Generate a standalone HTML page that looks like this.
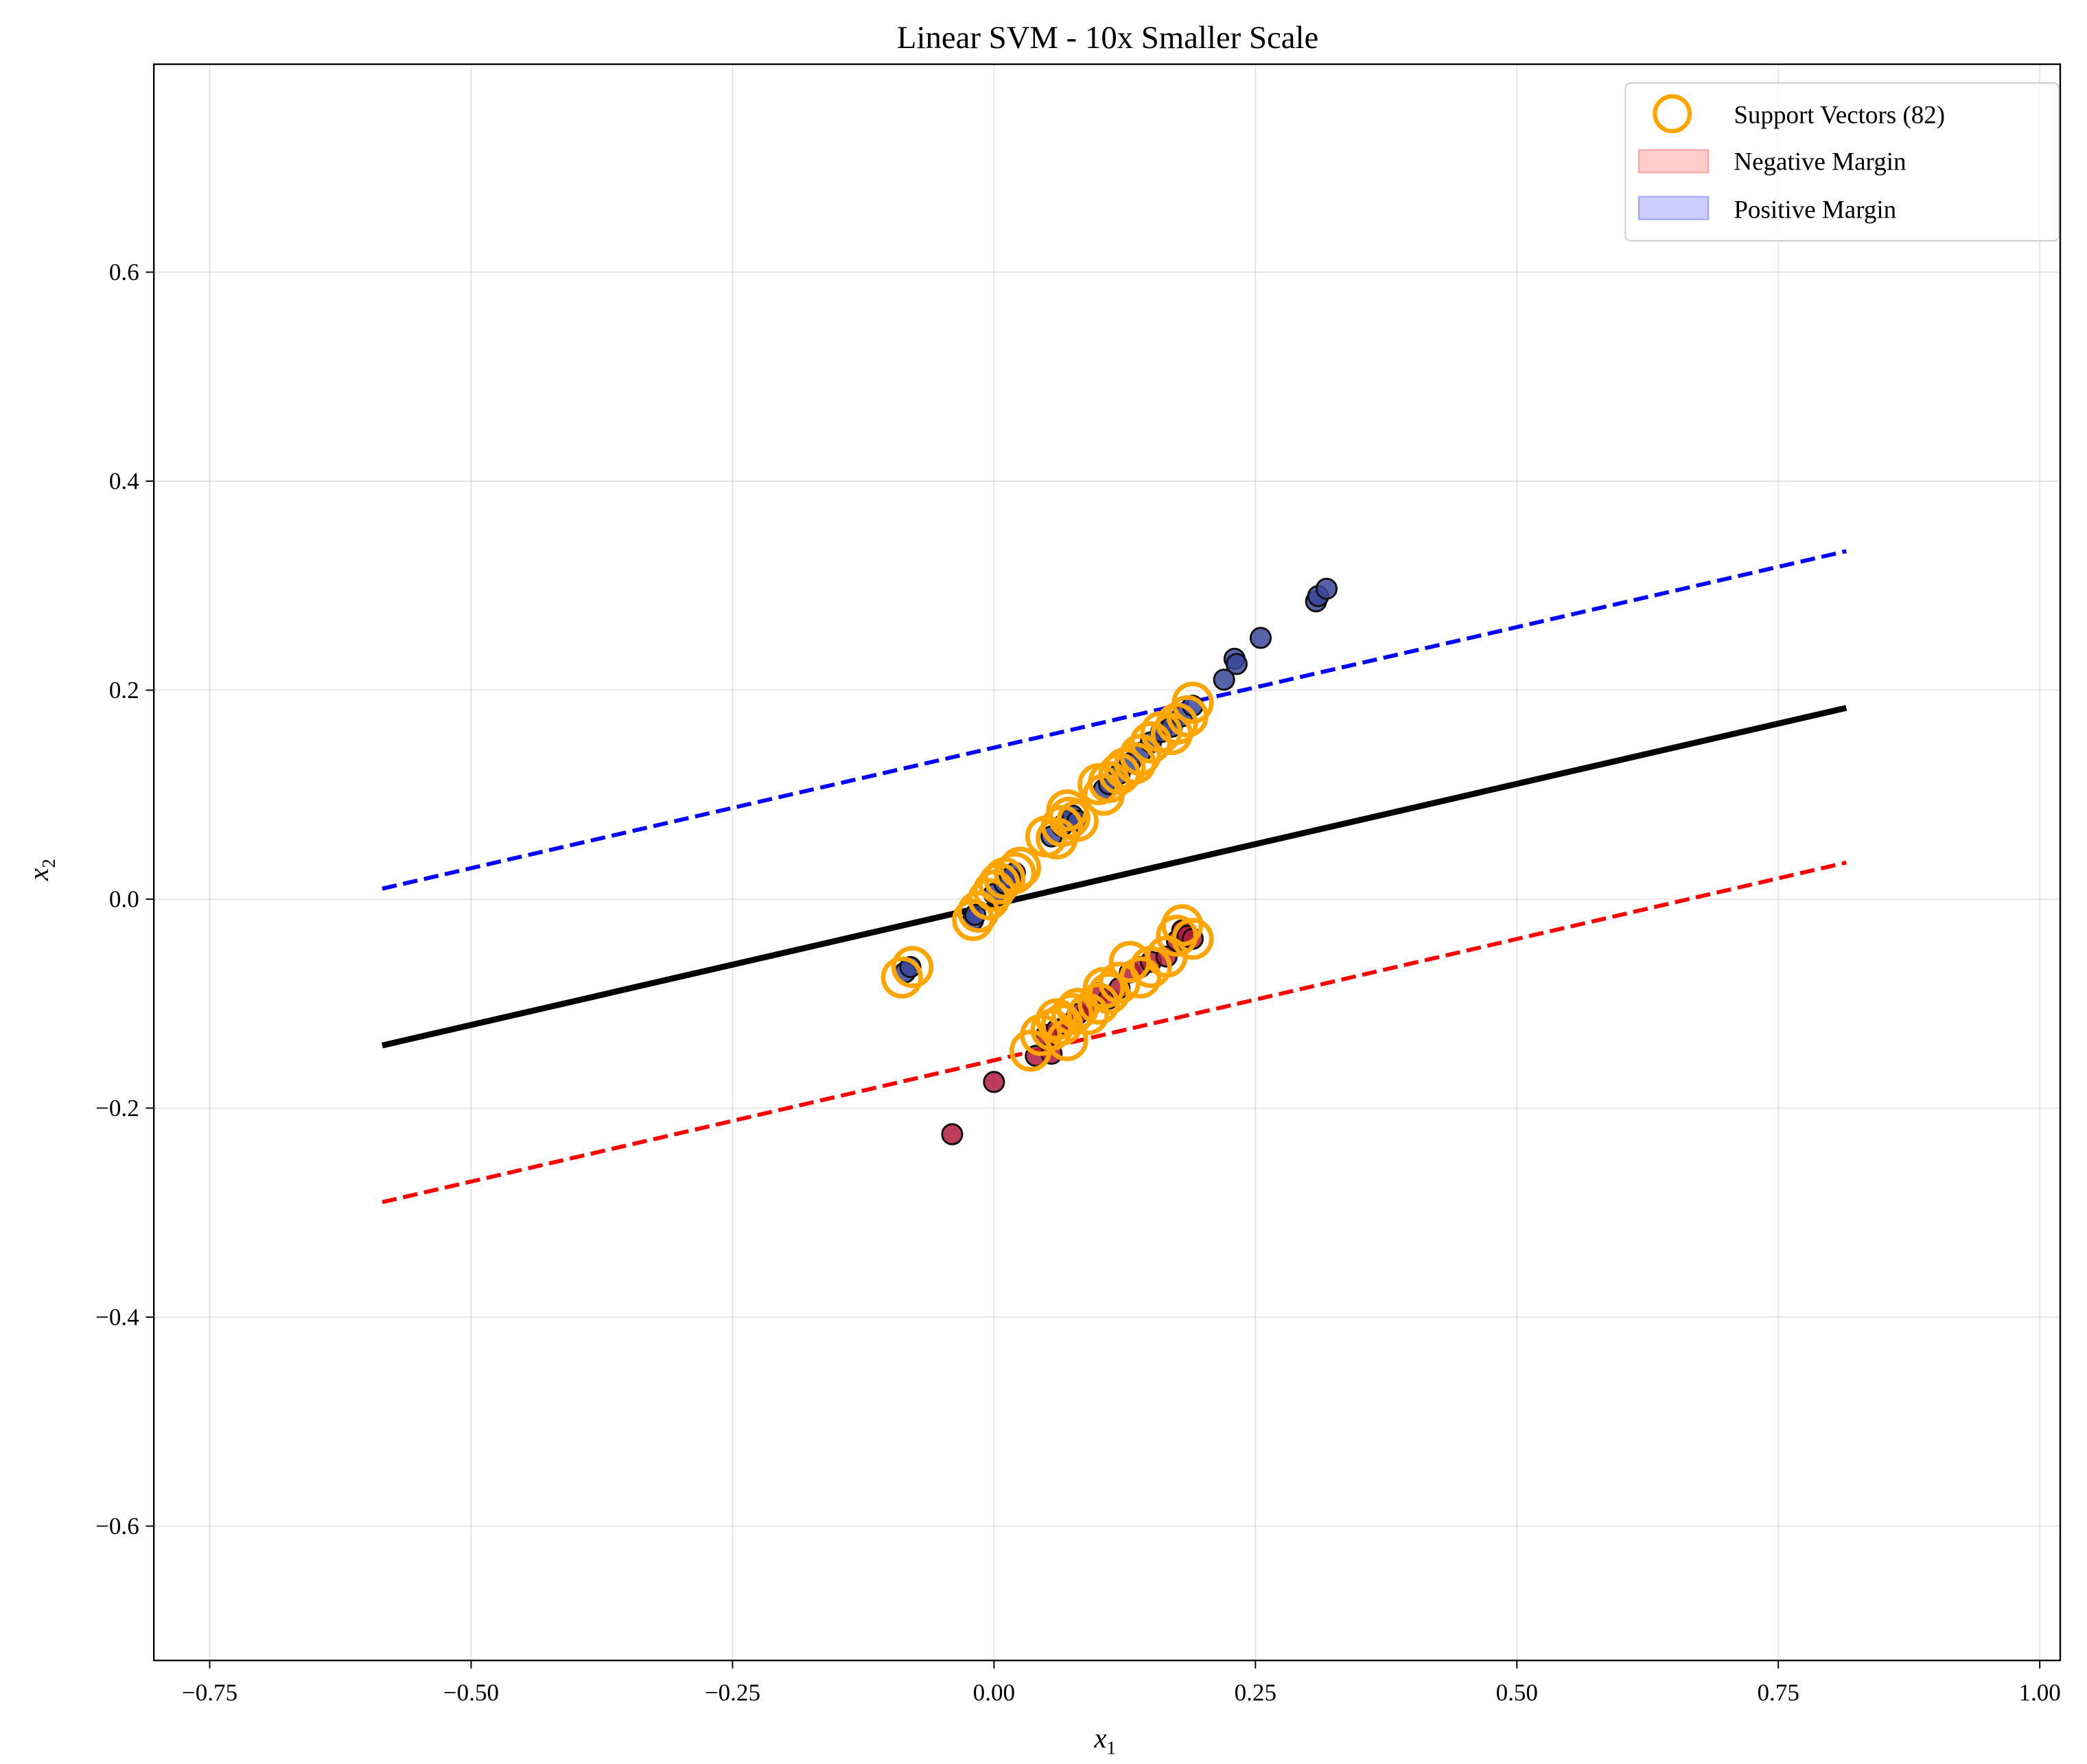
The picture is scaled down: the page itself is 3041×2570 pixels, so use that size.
<!DOCTYPE html>
<html><head><meta charset="utf-8"><style>
html,body{margin:0;padding:0;background:#fff}
svg{display:block}
text{font-family:"Liberation Serif","DejaVu Serif",serif;fill:#000}
</style></head><body>
<svg id="chart" width="3041" height="2570" viewBox="0 0 1560 1318.4" xmlns="http://www.w3.org/2000/svg">
<rect x="0" y="0" width="1560" height="1318.4" fill="#fff"/>
<g id="grid"></g>
<g id="lines"></g>
<g id="pts"></g>
<g id="svs"></g>
<rect x="115" y="48" width="1425" height="1193" fill="none" stroke="#000" stroke-width="1.2"/>
<g id="ticks"></g>
<text x="828" y="36" font-size="24" text-anchor="middle">Linear SVM - 10x Smaller Scale</text>
<text x="826" y="1306" font-size="21" text-anchor="middle" font-style="italic">x<tspan font-size="14" dy="5" font-style="normal">1</tspan></text>
<text transform="translate(36,650) rotate(-90)" font-size="21" text-anchor="middle" font-style="italic">x<tspan font-size="14" dy="5" font-style="normal">2</tspan></text>
<g>
<rect x="1215" y="62" width="324" height="118" rx="4" fill="#fff" fill-opacity="0.8" stroke="#ccc" stroke-width="1"/>
<circle cx="1250" cy="85" r="13" fill="none" stroke="#ffa500" stroke-width="3.2"/>
<text x="1296" y="92" font-size="19">Support Vectors (82)</text>
<rect x="1225" y="112" width="52" height="17" fill="rgba(255,0,0,0.2)" stroke="rgba(255,0,0,0.3)"/>
<text x="1296" y="127" font-size="19">Negative Margin</text>
<rect x="1225" y="147" width="52" height="17" fill="rgba(0,0,255,0.2)" stroke="rgba(0,0,255,0.3)"/>
<text x="1296" y="163" font-size="19">Positive Margin</text>
</g>
</svg>
<script>
const xTicks = [-0.75, -0.5, -0.25, 0, 0.25, 0.5, 0.75, 1.0];
const xTickLabels = ["\u22120.75","\u22120.50","\u22120.25","0.00","0.25","0.50","0.75","1.00"];
const yTicks = [0.6, 0.4, 0.2, 0, -0.2, -0.4, -0.6];
const yTickLabels = ["0.6","0.4","0.2","0.0","\u22120.2","\u22120.4","\u22120.6"];
const lineX = [-0.585, 0.815];
const centerY = [-0.14, 0.183];
const posMarginY = [0.01, 0.333];
const negMarginY = [-0.29, 0.035];
const blueX = [-0.085,-0.08,-0.02,-0.018,0.0,0.01,0.02,0.015,0.055,0.065,0.07,0.075,0.08,0.105,0.11,0.12,0.13,0.14,0.15,0.16,0.17,0.18,0.19,0.22,0.23,0.232,0.255,0.308,0.31,0.318];
const blueY = [-0.07,-0.065,-0.02,-0.015,0.005,0.015,0.025,0.02,0.06,0.07,0.075,0.08,0.075,0.105,0.11,0.12,0.13,0.14,0.15,0.16,0.165,0.175,0.185,0.21,0.23,0.225,0.25,0.285,0.29,0.297];
const redX = [-0.04,0.0,0.04,0.055,0.05,0.06,0.07,0.08,0.09,0.1,0.11,0.12,0.13,0.14,0.15,0.165,0.175,0.18,0.185,0.19];
const redY = [-0.225,-0.175,-0.15,-0.148,-0.13,-0.125,-0.12,-0.11,-0.105,-0.09,-0.095,-0.085,-0.07,-0.065,-0.06,-0.055,-0.04,-0.03,-0.035,-0.038];
const svX = [-0.088,-0.078,-0.02,-0.015,-0.005,0.0,0.005,0.01,0.02,0.025,0.05,0.06,0.065,0.07,0.072,0.08,0.1,0.105,0.11,0.12,0.125,0.135,0.14,0.15,0.16,0.17,0.175,0.185,0.19,
  0.035,0.045,0.055,0.06,0.065,0.07,0.075,0.08,0.09,0.1,0.105,0.11,0.12,0.13,0.14,0.15,0.165,0.175,0.18,0.19];
const svY = [-0.075,-0.065,-0.02,-0.012,0.0,0.008,0.015,0.02,0.025,0.03,0.06,0.058,0.07,0.085,0.078,0.075,0.11,0.1,0.112,0.12,0.125,0.13,0.138,0.15,0.16,0.158,0.168,0.175,0.188,
  -0.145,-0.13,-0.125,-0.115,-0.12,-0.135,-0.11,-0.105,-0.11,-0.1,-0.085,-0.09,-0.08,-0.06,-0.075,-0.065,-0.055,-0.035,-0.025,-0.038];

const X = v => 743 + v * 781.7;
const Y = v => 672 - v * 781;
const NS = "http://www.w3.org/2000/svg";
function mk(tag, parent, attrs){const e=document.createElementNS(NS,tag);for(const k in attrs)e.setAttribute(k,attrs[k]);document.getElementById(parent).appendChild(e);return e;}

xTicks.forEach((t,i)=>{
  const g=mk('line','grid',{x1:X(t),x2:X(t),y1:48,y2:1241,stroke:'#000','stroke-opacity':0.1,'stroke-width':1});
  
  
  const tk=mk('line','ticks',{x1:X(t),x2:X(t),y1:1241,y2:1247,stroke:'#000','stroke-width':1});
  
  
  const lb=mk('text','ticks',{x:X(t),y:1271,'font-size':18,'text-anchor':'middle'});
  lb.textContent=xTickLabels[i];
  
  
});
yTicks.forEach((t,i)=>{
  const g=mk('line','grid',{x1:115,x2:1540,y1:Y(t),y2:Y(t),stroke:'#000','stroke-opacity':0.1,'stroke-width':1});
  
  
  const tk=mk('line','ticks',{x1:109,x2:115,y1:Y(t),y2:Y(t),stroke:'#000','stroke-width':1});
  
  
  const lb=mk('text','ticks',{x:104,y:Y(t)+6,'font-size':18,'text-anchor':'end'});
  lb.textContent=yTickLabels[i];
  
  
});
const c=mk('line','lines',{x1:X(lineX[0]),y1:Y(centerY[0]),x2:X(lineX[1]),y2:Y(centerY[1]),stroke:'#000','stroke-width':4.5});


const p=mk('line','lines',{x1:X(lineX[0]),y1:Y(posMarginY[0]),x2:X(lineX[1]),y2:Y(posMarginY[1]),stroke:'#0000ff','stroke-width':3,'stroke-dasharray':'11,5'});


const n=mk('line','lines',{x1:X(lineX[0]),y1:Y(negMarginY[0]),x2:X(lineX[1]),y2:Y(negMarginY[1]),stroke:'#ff0000','stroke-width':3,'stroke-dasharray':'11,5'});


redX.forEach((x,i)=>{
  const e=mk('circle','pts',{cx:X(x),cy:Y(redY[i]),r:7.5,fill:'#b01c3e','fill-opacity':0.85,stroke:'#111','stroke-width':1.5});
  
  
});
blueX.forEach((x,i)=>{
  const e=mk('circle','pts',{cx:X(x),cy:Y(blueY[i]),r:7.5,fill:'#3a469a','fill-opacity':0.85,stroke:'#111','stroke-width':1.5});
  
  
});
svX.forEach((x,i)=>{
  const e=mk('circle','svs',{cx:X(x),cy:Y(svY[i]),r:14,fill:'none',stroke:'#ffa500','stroke-width':3.4});
  
  
});
</script>
</body></html>
